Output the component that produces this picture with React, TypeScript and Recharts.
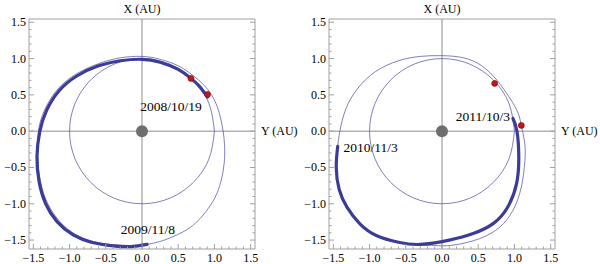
import React from 'react'
import {
  ComposedChart,
  Scatter,
  XAxis,
  YAxis,
  ReferenceLine,
  ReferenceDot,
} from 'recharts'

type Pt = { x: number; y: number }

const majorTicks = [-1.5, -1, -0.5, 0, 0.5, 1, 1.5]
const minorTicks = [
  -1.4, -1.3, -1.2, -1.1, -0.9, -0.8, -0.7, -0.6, -0.4, -0.3, -0.2, -0.1,
  0.1, 0.2, 0.3, 0.4, 0.6, 0.7, 0.8, 0.9, 1.1, 1.2, 1.3, 1.4,
]
const allTicks = [...majorTicks, ...minorTicks]

const xDomain = [-1.56, 1.56]
const yDomain = [-1.623, 1.545]

// Earth orbit, radius 1 AU
const earthOrbit: Pt[] = [
  { x: 1, y: 0 }, { x: 0.924, y: 0.383 }, { x: 0.707, y: 0.707 },
  { x: 0.383, y: 0.924 }, { x: 0, y: 1 }, { x: -0.383, y: 0.924 },
  { x: -0.707, y: 0.707 }, { x: -0.924, y: 0.383 }, { x: -1, y: 0 },
  { x: -0.924, y: -0.383 }, { x: -0.707, y: -0.707 }, { x: -0.383, y: -0.924 },
  { x: 0, y: -1 }, { x: 0.383, y: -0.924 }, { x: 0.707, y: -0.707 },
  { x: 0.924, y: -0.383 }, { x: 1, y: 0 },
]

// left panel
const orbitA: Pt[] = [
  { x: 0.07, y: -1.56 }, { x: 0.25, y: -1.52 }, { x: 0.41, y: -1.46 },
  { x: 0.58, y: -1.38 }, { x: 0.735, y: -1.27 }, { x: 0.88, y: -1.11 },
  { x: 1.01, y: -0.91 }, { x: 1.09, y: -0.69 }, { x: 1.135, y: -0.44 },
  { x: 1.14, y: -0.2 }, { x: 1.12, y: 0 }, { x: 1.08, y: 0.2 },
  { x: 1.03, y: 0.36 }, { x: 0.96, y: 0.5 }, { x: 0.85, y: 0.64 },
  { x: 0.7, y: 0.77 }, { x: 0.5, y: 0.9 }, { x: 0.25, y: 0.99 },
  { x: 0, y: 1.03 }, { x: -0.3, y: 1.01 }, { x: -0.6, y: 0.93 },
  { x: -0.92, y: 0.78 }, { x: -1.18, y: 0.56 }, { x: -1.35, y: 0.28 },
  { x: -1.43, y: 0 }, { x: -1.44, y: -0.35 }, { x: -1.4, y: -0.7 },
  { x: -1.3, y: -1.0 }, { x: -1.13, y: -1.25 }, { x: -0.92, y: -1.42 },
  { x: -0.67, y: -1.52 }, { x: -0.4, y: -1.565 }, { x: -0.15, y: -1.575 },
  { x: 0.07, y: -1.56 },
]
const passA: Pt[] = [
  { x: 0.905, y: 0.47 }, { x: 0.79, y: 0.62 }, { x: 0.676, y: 0.727 },
  { x: 0.5, y: 0.85 }, { x: 0.25, y: 0.95 }, { x: 0, y: 0.99 },
  { x: -0.3, y: 0.97 }, { x: -0.6, y: 0.9 }, { x: -0.9, y: 0.76 },
  { x: -1.15, y: 0.55 }, { x: -1.32, y: 0.28 }, { x: -1.41, y: 0 },
  { x: -1.45, y: -0.35 }, { x: -1.42, y: -0.7 }, { x: -1.33, y: -1.0 },
  { x: -1.17, y: -1.25 }, { x: -0.95, y: -1.43 }, { x: -0.7, y: -1.53 },
  { x: -0.4, y: -1.58 }, { x: -0.15, y: -1.59 }, { x: 0.07, y: -1.56 },
]
const dotsA: Pt[] = [
  { x: 0.676, y: 0.727 },
  { x: 0.905, y: 0.506 },
]
const notesA = [
  { x: 0.4, y: 0.345, text: '2008/10/19' },
  { x: 0.08, y: -1.35, text: '2009/11/8' },
]

// right panel
const orbitB: Pt[] = [
  { x: -1.44, y: -0.21 }, { x: -1.41, y: 0 }, { x: -1.33, y: 0.3 },
  { x: -1.17, y: 0.58 }, { x: -0.92, y: 0.82 }, { x: -0.6, y: 0.97 },
  { x: -0.3, y: 1.03 }, { x: 0, y: 1.04 }, { x: 0.3, y: 1.01 },
  { x: 0.55, y: 0.9 }, { x: 0.76, y: 0.7 }, { x: 0.94, y: 0.45 },
  { x: 1.05, y: 0.25 }, { x: 1.095, y: 0.079 }, { x: 1.14, y: -0.15 },
  { x: 1.145, y: -0.4 }, { x: 1.095, y: -0.77 }, { x: 0.98, y: -1.09 },
  { x: 0.8, y: -1.32 }, { x: 0.52, y: -1.48 }, { x: 0.15, y: -1.57 },
  { x: -0.1, y: -1.575 }, { x: -0.25, y: -1.565 },
]
const passB: Pt[] = [
  { x: -1.44, y: -0.21 }, { x: -1.46, y: -0.5 }, { x: -1.42, y: -0.8 },
  { x: -1.31, y: -1.05 }, { x: -1.13, y: -1.28 }, { x: -0.9, y: -1.44 },
  { x: -0.6, y: -1.53 }, { x: -0.3, y: -1.56 }, { x: 0.1, y: -1.5 },
  { x: 0.43, y: -1.41 }, { x: 0.71, y: -1.27 }, { x: 0.91, y: -1.04 },
  { x: 1.03, y: -0.72 }, { x: 1.06, y: -0.35 }, { x: 1.035, y: 0 },
  { x: 0.98, y: 0.175 },
]
const dotsB: Pt[] = [
  { x: 0.727, y: 0.658 },
  { x: 1.095, y: 0.079 },
]
const notesB = [
  { x: 0.566, y: 0.2, text: '2011/10/3' },
  { x: -0.986, y: -0.22, text: '2010/11/3' },
]

const FONT = "'Liberation Serif', 'DejaVu Serif', serif"
const FRAME = '#a0a0a0'
const AXIS = '#8c8c8c'
const THIN = '#5f5fab'
const THICK = '#3c3c98'

const isMajor = (v: number) => majorTicks.some((m) => Math.abs(m - v) < 1e-6)
const fmt = (v: number) => {
  const s = Math.abs(v).toFixed(1)
  return v < -1e-6 ? '\u2212' + s : s
}

const BottomTick = ({ x, y, payload }: any) => {
  const major = isMajor(payload.value)
  return (
    <g>
      <line x1={x} x2={x} y1={y} y2={y - (major ? 5 : 2.5)} stroke={FRAME} />
      {major && (
        <text x={x} y={y + 13} textAnchor="middle" style={{ fontFamily: FONT, fontSize: 12 }} fill="#000">
          {fmt(payload.value)}
        </text>
      )}
    </g>
  )
}
const TopTick = ({ x, y, payload }: any) => {
  const major = isMajor(payload.value)
  return <line x1={x} x2={x} y1={y} y2={y + (major ? 5 : 2.5)} stroke={FRAME} />
}
const LeftTick = ({ x, y, payload }: any) => {
  const major = isMajor(payload.value)
  return (
    <g>
      <line x1={x} x2={x + (major ? 5 : 2.5)} y1={y} y2={y} stroke={FRAME} />
      {major && (
        <text x={x - 3} y={y + 4} textAnchor="end" style={{ fontFamily: FONT, fontSize: 12 }} fill="#000">
          {fmt(payload.value)}
        </text>
      )}
    </g>
  )
}
const RightTick = ({ x, y, payload }: any) => {
  const major = isMajor(payload.value)
  return <line x1={x} x2={x - (major ? 5 : 2.5)} y1={y} y2={y} stroke={FRAME} />
}

const NoShape = () => <g />
const RedDot = ({ cx, cy }: any) => (
  <circle cx={cx} cy={cy} r={3} fill="#c41414" stroke="#8a0a0a" strokeWidth={0.6} />
)

const labelStyle = { fill: '#000', fontSize: 12, style: { fontFamily: FONT } }

function Panel({ orbit, pass, dots, notes }: { orbit: Pt[]; pass: Pt[]; dots: Pt[]; notes: typeof notesA }) {
  return (
    <ComposedChart
      width={300}
      height={264}
      margin={{ top: 0, right: 0, bottom: 0, left: 0 }}
      style={{ fontFamily: FONT }}
    >
      <XAxis
        type="number"
        dataKey="x"
        domain={xDomain}
        allowDataOverflow
        ticks={allTicks}
        interval={0}
        height={15}
        tickSize={0}
        tickMargin={0}
        tick={<BottomTick />}
        stroke={FRAME}
      />
      <XAxis
        xAxisId="top"
        orientation="top"
        type="number"
        domain={xDomain}
        allowDataOverflow
        ticks={allTicks}
        interval={0}
        height={19}
        tickSize={0}
        tickMargin={0}
        tick={<TopTick />}
        stroke={FRAME}
      />
      <YAxis
        type="number"
        dataKey="y"
        domain={yDomain}
        allowDataOverflow
        ticks={allTicks}
        interval={0}
        width={29}
        tickSize={0}
        tickMargin={0}
        tick={<LeftTick />}
        stroke={FRAME}
      />
      <YAxis
        yAxisId="right"
        orientation="right"
        type="number"
        domain={yDomain}
        allowDataOverflow
        ticks={allTicks}
        interval={0}
        width={45}
        tickSize={0}
        tickMargin={0}
        tick={<RightTick />}
        stroke={FRAME}
      />
      <ReferenceLine
        x={0}
        stroke={AXIS}
        label={{ value: 'X (AU)', position: 'top', offset: 6, ...labelStyle }}
      />
      <ReferenceLine
        y={0}
        stroke={AXIS}
        label={{ value: 'Y (AU)', position: 'right', offset: 6, ...labelStyle }}
      />
      <Scatter
        data={earthOrbit}
        line={{ stroke: THIN, strokeWidth: 0.8 }}
        lineJointType="natural"
        shape={<NoShape />}
        isAnimationActive={false}
      />
      <Scatter
        data={orbit}
        line={{ stroke: THIN, strokeWidth: 0.8 }}
        lineJointType="natural"
        shape={<NoShape />}
        isAnimationActive={false}
      />
      <Scatter
        data={pass}
        line={{ stroke: THICK, strokeWidth: 3.2, strokeLinecap: 'round' }}
        lineJointType="natural"
        shape={<NoShape />}
        isAnimationActive={false}
      />
      <ReferenceDot x={0} y={0} r={6} fill="#6e6e6e" stroke="none" />
      <Scatter data={dots} shape={<RedDot />} isAnimationActive={false} />
      {notes.map((n) => (
        <ReferenceDot
          key={n.text}
          x={n.x}
          y={n.y}
          r={0}
          fill="none"
          stroke="none"
          label={{ value: n.text, position: 'center', ...labelStyle, fontSize: 13.5 }}
        />
      ))}
    </ComposedChart>
  )
}

export default function App() {
  return (
    <div style={{ position: 'absolute', left: 0, top: 0, width: 600, height: 264, background: '#fff', display: 'flex', fontFamily: FONT }}>
      <Panel orbit={orbitA} pass={passA} dots={dotsA} notes={notesA} />
      <Panel orbit={orbitB} pass={passB} dots={dotsB} notes={notesB} />
    </div>
  )
}
